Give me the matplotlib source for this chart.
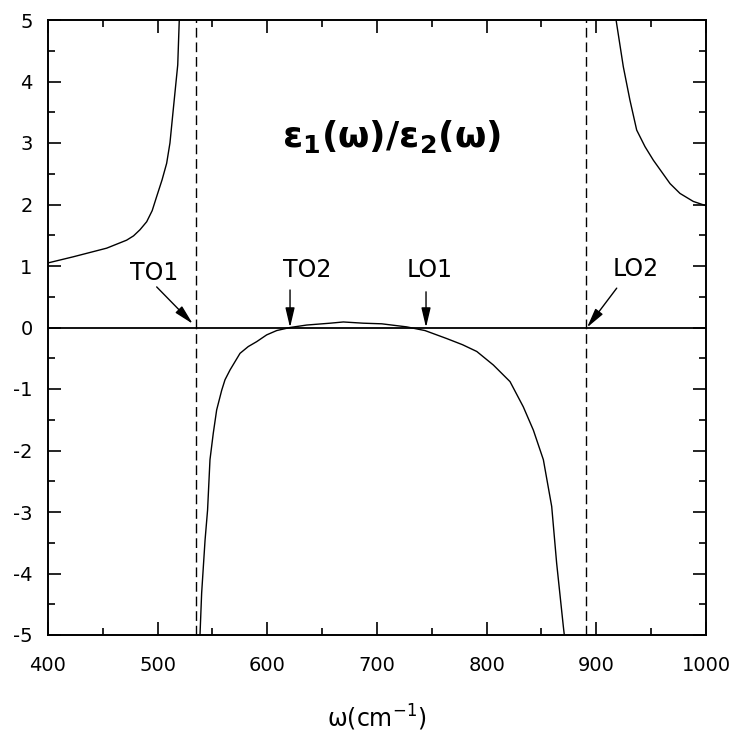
import matplotlib
matplotlib.use('Agg')
import matplotlib.pyplot as plt
from matplotlib.ticker import MultipleLocator

plt.rcParams['font.family'] = ['DejaVu Sans']
plt.rcParams['mathtext.fontset'] = 'dejavusans'
plt.rcParams['axes.unicode_minus'] = False

# eps1/eps2, three branches split by the poles
left_w = [400, 423.1, 453.5, 471.7, 478.0, 483.9, 490.0, 495.0, 499.1, 504.0, 508.2,
          511.2, 514.2, 518.3, 519.7]
left_r = [1.05, 1.15, 1.29, 1.42, 1.49, 1.59, 1.72, 1.90, 2.13, 2.40, 2.67,
          3.00, 3.54, 4.27, 5.0]

mid_w = [538.6, 540.1, 543.2, 545.5, 547.7, 550.7, 553.8, 558.4, 561.4, 566.0, 575.1,
         582.6, 590.3, 599.4, 608.5, 620.7, 635.9, 657.2, 669.3, 687.5, 704.3, 727.1,
         743.8, 763.6, 778.0, 791.0, 806.1, 821.3, 833.4, 842.6, 851.7, 859.3, 863.8,
         869.9, 870.8]
mid_r = [-5.0, -4.32, -3.46, -2.97, -2.15, -1.72, -1.34, -1.02, -0.85, -0.69, -0.42,
         -0.31, -0.23, -0.12, -0.05, 0.0, 0.04, 0.07, 0.09, 0.07, 0.06, 0.01,
         -0.05, -0.18, -0.28, -0.39, -0.61, -0.88, -1.29, -1.67, -2.15, -2.91, -3.83,
         -4.86, -5.0]

right_w = [918.0, 924.6, 930.6, 936.8, 944.4, 952.0, 967.2, 976.3, 988.4, 1000]
right_r = [5.0, 4.24, 3.70, 3.21, 2.94, 2.72, 2.34, 2.18, 2.05, 1.98]

poles = [535, 891]

# mode labels: name, arrow tip, arrow tail, label position
modes = ['TO1', 'TO2', 'LO1', 'LO2']
tips = [(532, 0.06), (620.7, 0.0), (744.7, 0.0), (891.5, 0.0)]
tails = [(499.1, 0.66), (620.7, 0.61), (744.7, 0.58), (918.6, 0.64)]
label_pos = [(496.7, 0.88), (635.9, 0.93), (748.3, 0.93), (936.0, 0.95)]

fig = plt.figure(figsize=(7.35, 7.36), dpi=100)
ax = fig.add_axes([48 / 735, 1 - 635 / 736, 658 / 735, 615 / 736])

ax.plot(left_w, left_r, color='black', lw=1.0)
ax.plot(mid_w, mid_r, color='black', lw=1.0)
ax.plot(right_w, right_r, color='black', lw=1.0)
ax.axhline(0, color='black', lw=1.3)
for p in poles:
    ax.axvline(p, color='black', lw=1.0, linestyle=(0, (7, 3.5)))

for name, tip, tail, lp in zip(modes, tips, tails, label_pos):
    ax.annotate('', xy=tip, xytext=tail,
                arrowprops=dict(arrowstyle='-|>,head_length=0.85,head_width=0.2',
                                mutation_scale=14, color='black', lw=1.0,
                                shrinkA=0, shrinkB=0))
    ax.text(lp[0], lp[1], name, fontsize=17, ha='center', va='center')

ax.text(713, 3.1, r'$\mathbf{\varepsilon_1(\omega)/\varepsilon_2(\omega)}$',
        fontsize=26, ha='center', va='center')

ax.set_xlim(400, 1000)
ax.set_ylim(-5, 5)
ax.xaxis.set_major_locator(MultipleLocator(100))
ax.xaxis.set_minor_locator(MultipleLocator(50))
ax.yaxis.set_major_locator(MultipleLocator(1))
ax.yaxis.set_minor_locator(MultipleLocator(0.5))
ax.tick_params(which='both', direction='in', top=True, right=True, width=1.2, labelsize=14)
ax.tick_params(which='major', length=9.5)
ax.tick_params(which='minor', length=5)
ax.tick_params(axis='x', which='major', pad=15)
ax.tick_params(axis='y', which='major', pad=11)
for s in ax.spines.values():
    s.set_linewidth(1.4)

ax.set_xlabel('ω(cm$^{-1}$)', fontsize=17, labelpad=20)

fig.savefig('out.png', dpi=100)
